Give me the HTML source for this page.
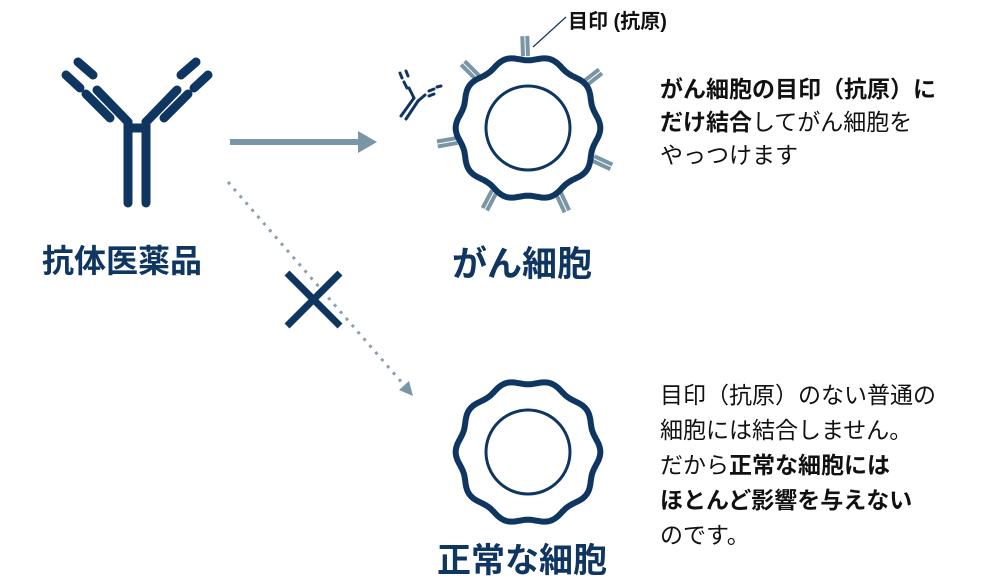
<!DOCTYPE html>
<html><head><meta charset="utf-8">
<style>
html,body{margin:0;padding:0;background:#fff;}
#c{position:relative;width:1000px;height:581px;overflow:hidden;font-family:"Liberation Sans","Noto Sans CJK JP",sans-serif;}
.t{position:absolute;white-space:nowrap;}
.lbl{color:#0f3661;font-weight:bold;}
.body{font-size:23px;color:#111;}
b{font-weight:bold;}
</style></head><body>
<div id="c">
<svg width="1000" height="581" style="position:absolute;left:0;top:0">
<g stroke="#0f3661" stroke-width="9" stroke-linecap="round" fill="none">
  <line x1="128" y1="122" x2="128" y2="203"/>
  <line x1="146" y1="122" x2="146" y2="203"/>
  <line x1="128" y1="128" x2="146" y2="128"/>
  <line x1="128" y1="122" x2="97" y2="90"/>
  <line x1="146" y1="122" x2="177" y2="90"/>
  <line x1="78" y1="62" x2="93" y2="75"/>
  <line x1="196" y1="62" x2="181" y2="75"/>
  <line x1="66" y1="75" x2="80" y2="88"/>
  <line x1="208" y1="75" x2="194" y2="88"/>
  <line x1="86" y1="94" x2="110" y2="118"/>
  <line x1="188" y1="94" x2="164" y2="118"/>
</g>
<g stroke="#0f3661" stroke-width="3" stroke-linecap="round" fill="none">
  <line x1="401" y1="116" x2="414" y2="98"/>
  <line x1="406" y1="119" x2="418" y2="101"/>
  <line x1="414" y1="98" x2="409" y2="88"/>
  <line x1="418" y1="101" x2="425" y2="95"/>
  <line x1="400" y1="73" x2="402" y2="78"/>
  <line x1="404" y1="82" x2="407" y2="88"/>
  <line x1="406" y1="71" x2="408" y2="76"/>
  <line x1="429" y1="91" x2="434" y2="89"/>
  <line x1="429" y1="96" x2="434" y2="94"/>
  <line x1="437" y1="87" x2="441" y2="86"/>
</g>
<line x1="230" y1="142" x2="360" y2="142" stroke="#7a96a6" stroke-width="6"/>
<polygon points="358,131 377,142 358,153" fill="#7a96a6"/>
<line x1="228" y1="182" x2="404" y2="385" stroke="#8aa0ae" stroke-width="3" stroke-dasharray="3,6"/>
<polygon points="413,396 399,390 409,381" fill="#7a96a6"/>
<g stroke="#0f3661" stroke-width="7"><line x1="287" y1="273" x2="340" y2="326"/><line x1="340" y1="273" x2="287" y2="326"/></g>
<g id="rec" stroke="#7a96a6" stroke-width="4"></g>
<path id="w1" fill="none" stroke="#0f3661" stroke-width="6"/>
<circle cx="528" cy="128" r="42" fill="none" stroke="#0f3661" stroke-width="3"/>
<path id="w2" fill="none" stroke="#0f3661" stroke-width="6"/>
<circle cx="528" cy="452" r="42" fill="none" stroke="#0f3661" stroke-width="3"/>
<line x1="533" y1="47" x2="566" y2="17" stroke="#0f3661" stroke-width="1.2"/>
</svg>
<div class="t" style="left:568px;top:5px;font-size:20px;font-weight:bold;color:#111;">目印 (抗原)</div>
<div class="t lbl" style="left:42px;top:236px;font-size:32px;">抗体医薬品</div>
<div class="t lbl" style="left:452px;top:236px;font-size:35px;">がん細胞</div>
<div class="t lbl" style="left:437px;top:533px;font-size:34px;">正常な細胞</div>
<div class="t body" style="left:660px;top:73px;line-height:33px;"><b>がん細胞の目印（抗原）に</b><br><b>だけ結合</b>してがん細胞を<br>やっつけます</div>
<div class="t body" style="left:660px;top:378px;line-height:35px;">目印（抗原）のない普通の<br>細胞には結合しません。<br>だから<b>正常な細胞には</b><br><b>ほとんど影響を与えない</b><br>のです。</div>
</div>
<script>
function wav(cx,cy){var d="";for(var i=0;i<=360;i++){var a=i*Math.PI/180;var r=70+2.3*Math.cos(10*a);d+=(i?"L":"M")+(cx+r*Math.cos(a)).toFixed(1)+","+(cy+r*Math.sin(a)).toFixed(1);}return d+"Z";}
document.getElementById("w1").setAttribute("d",wav(528,128));
document.getElementById("w2").setAttribute("d",wav(528,452));
var angs=[-92,-135,-38,170,25,118,65],g=document.getElementById("rec"),s="";
angs.forEach(function(A){var a=A*Math.PI/180,c=Math.cos(a),n=Math.sin(a);[-2.5,2.5].forEach(function(o){var x1=528+72*c-o*n,y1=128+72*n+o*c,x2=528+92*c-o*n,y2=128+92*n+o*c;s+='<line x1="'+x1+'" y1="'+y1+'" x2="'+x2+'" y2="'+y2+'"/>';});});
g.innerHTML=s;
</script>
</body></html>
